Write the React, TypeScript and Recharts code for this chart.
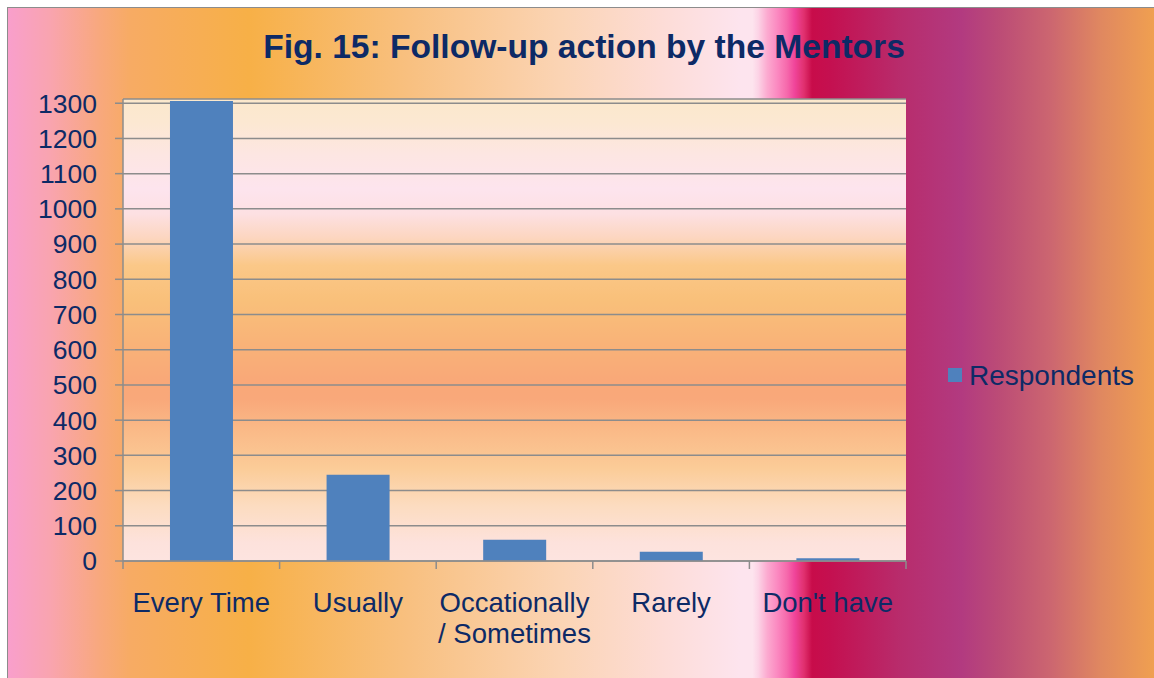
import { BarChart, Bar, XAxis, YAxis, CartesianGrid, Legend } from 'recharts';

const categories = ['Every Time', 'Usually', 'Occationally / Sometimes', 'Rarely', "Don't have"];
const respondents = [1306, 245, 60, 26, 8];
const yTicks = [0, 100, 200, 300, 400, 500, 600, 700, 800, 900, 1000, 1100, 1200, 1300];

const chartData = categories.map((name, i) => ({ name, Respondents: respondents[i] }));

const TEXT = '#0d2a66';
const GRID = '#8c8c8c';
const FONT = '"Liberation Sans", Arial, sans-serif';
const WIDTH = 1145;
const HEIGHT = 669;
const MARGIN = { top: 90, right: 248, bottom: 0, left: 14 };
const BAND = (WIDTH - MARGIN.left - 100 - MARGIN.right) / categories.length;

// category labels sit in the middle, tick marks go on the band edges (Excel style)
function CategoryTick(props: any) {
  const { x, y, payload, index } = props;
  const half = payload.offset ?? BAND / 2;
  const parts = String(payload.value).split(' / ');
  const lines = parts.length > 1 ? [parts[0], '/ ' + parts[1]] : parts;
  return (
    <g>
      <line x1={x - half} x2={x - half} y1={y - 8} y2={y} stroke={GRID} strokeWidth={1.5} />
      {index === categories.length - 1 && (
        <line x1={x + half} x2={x + half} y1={y - 8} y2={y} stroke={GRID} strokeWidth={1.5} />
      )}
      <text textAnchor="middle" fill={TEXT} fontSize={27.5} fontFamily={FONT}>
        {lines.map((l, i) => (
          <tspan key={i} x={x} y={y + 43 + i * 31}>
            {l}
          </tspan>
        ))}
      </text>
    </g>
  );
}

function LegendBox() {
  return (
    <div style={{ position: 'relative', height: 32, fontFamily: FONT }}>
      <div style={{ position: 'absolute', left: 0, top: 9, width: 14, height: 14, background: '#4f81bd' }} />
      <span style={{ position: 'absolute', left: 21, top: 3, fontSize: 28, lineHeight: '28px', color: TEXT, whiteSpace: 'nowrap' }}>
        Respondents
      </span>
    </div>
  );
}

export default function App() {
  return (
    <div
      style={{
        position: 'fixed',
        left: 7,
        top: 7,
        overflow: 'hidden',
        width: WIDTH + 2,
        height: HEIGHT + 2,
        borderLeft: `1px solid ${GRID}`,
        borderTop: `1px solid ${GRID}`,
        background:
          'linear-gradient(to right, #f99fcc 0%, #f9a4b0 3.6%, #f8a87e 7.9%, #f7ab64 10.6%, #f7b047 21%, #f8c080 35%, #fbd4b4 48.1%, #fddcd6 56.9%, #fde4ee 63.8%, #fde4ee 64.9%, #fcd4e6 65.4%, #fcaad0 66.2%, #fb88c0 67.1%, #f66aac 67.9%, #f0449a 68.6%, #e0306e 69.4%, #c80c4a 70.1%, #c41050 71.7%, #b82c6c 77.8%, #b23a80 83.1%, #bc4c76 86.5%, #cc6670 90.9%, #e08860 95.3%, #f0a050 100%)',
      }}
    >
      <style>{'html, body { overflow: hidden; }'}</style>
      <div
        style={{
          position: 'absolute',
          left: 76,
          top: 22,
          width: 1000,
          textAlign: 'center',
          fontFamily: FONT,
          fontWeight: 'bold',
          fontSize: 33.6,
          lineHeight: '34px',
          color: TEXT,
          whiteSpace: 'nowrap',
        }}
      >
        Fig. 15: Follow-up action by the Mentors
      </div>
      <BarChart
        width={WIDTH}
        height={HEIGHT}
        data={chartData}
        margin={MARGIN}
        barCategoryGap="30%"
        style={{ position: 'absolute', left: 1, top: 1 }}
      >
        <defs>
          <linearGradient id="plotBg" x1="0" y1="0" x2="0" y2="1">
            <stop offset="0%" stopColor="#fbe8cc" />
            <stop offset="5%" stopColor="#fce8d2" />
            <stop offset="12%" stopColor="#fde6e2" />
            <stop offset="19.5%" stopColor="#fde4ee" />
            <stop offset="25%" stopColor="#fde0e2" />
            <stop offset="30%" stopColor="#fcd6c0" />
            <stop offset="36%" stopColor="#fbc888" />
            <stop offset="43.5%" stopColor="#f9c07a" />
            <stop offset="52%" stopColor="#f9b478" />
            <stop offset="61%" stopColor="#f9a878" />
            <stop offset="65%" stopColor="#f9a87a" />
            <stop offset="71%" stopColor="#fab886" />
            <stop offset="80%" stopColor="#fbcc98" />
            <stop offset="88%" stopColor="#fcdcc0" />
            <stop offset="96%" stopColor="#fde2dc" />
            <stop offset="100%" stopColor="#fde4e0" />
          </linearGradient>
        </defs>
        <CartesianGrid vertical={false} stroke={GRID} strokeWidth={1.5} fill="url(#plotBg)" fillOpacity={1} />
        <XAxis
          dataKey="name"
          height={117}
          interval={0}
          tickLine={false}
          tickSize={8}
          tickMargin={0}
          axisLine={{ stroke: GRID, strokeWidth: 1.5 }}
          tick={<CategoryTick />}
        />
        <YAxis
          width={100}
          domain={[0, 1312]}
          ticks={yTicks}
          interval={0}
          tickSize={8}
          tickMargin={18}
          axisLine={{ stroke: GRID, strokeWidth: 1.5 }}
          tickLine={{ stroke: GRID, strokeWidth: 1.5 }}
          tick={{ fill: TEXT, fontSize: 26.5, fontFamily: FONT }}
        />
        <Legend
          layout="horizontal"
          align="center"
          verticalAlign="middle"
          content={<LegendBox />}
          wrapperStyle={{ left: 939, top: 350, width: 200 }}
        />
        <Bar dataKey="Respondents" fill="#4f81bd" isAnimationActive={false} />
      </BarChart>
    </div>
  );
}
